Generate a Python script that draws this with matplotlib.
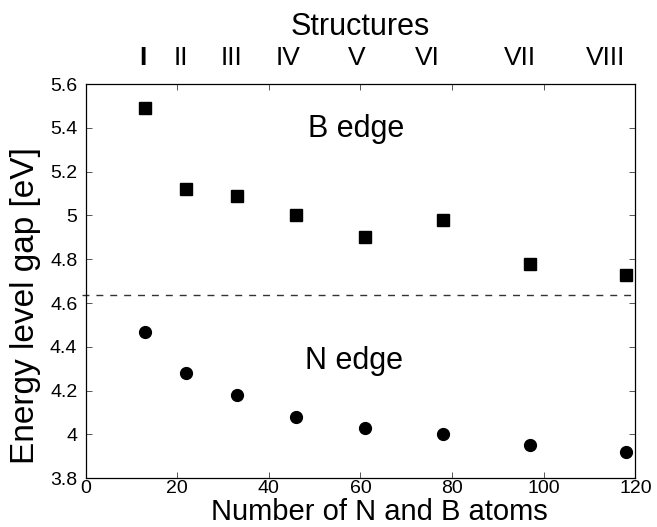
import matplotlib
matplotlib.use('Agg')
import matplotlib.pyplot as plt

plt.rcParams['font.family'] = ['Liberation Sans', 'DejaVu Sans']

# 数据
atoms = [13, 22, 33, 46, 61, 78, 97, 118]
b_edge = [5.49, 5.12, 5.09, 5.00, 4.90, 4.98, 4.78, 4.73]
n_edge = [4.47, 4.28, 4.18, 4.08, 4.03, 4.00, 3.95, 3.92]
gap_line = 4.635
structures = ['I', 'II', 'III', 'IV', 'V', 'VI', 'VII', 'VIII']
structure_pos = [12.4, 20.8, 31.9, 44.1, 59.1, 74.5, 94.8, 113.4]
xticks = [0, 20, 40, 60, 80, 100, 120]
yticks = [3.8, 4.0, 4.2, 4.4, 4.6, 4.8, 5.0, 5.2, 5.4, 5.6]

fig = plt.figure(figsize=(6.57, 5.27), dpi=100)
ax = fig.add_axes([0.1304, 0.0924, 0.8366, 0.7482])

ax.plot(atoms, b_edge, 's', color='black', ms=8, mec='black')
ax.plot(atoms, n_edge, 'o', color='black', ms=8.5, mec='black')
ax.axhline(gap_line, xmin=-0.006, xmax=1, color='#333333', lw=1,
           dashes=(5, 5), clip_on=False)

ax.set_xlim(0, 120)
ax.set_ylim(3.8, 5.6)
ax.set_xticks(xticks)
ax.set_yticks(yticks)
ax.set_yticklabels(['%g' % v for v in yticks])
ax.tick_params(direction='in', length=4, width=0.7, top=True, right=True,
               labelsize=14, color='#555555')
ax.tick_params(axis='x', pad=1)
ax.tick_params(axis='y', pad=6)
for s in ax.spines.values():
    s.set_linewidth(0.9)

ax.set_xlabel('Number of N and B atoms', fontsize=21, va='baseline')
ax.xaxis.set_label_coords(0.535, -0.107)
ax.set_ylabel('Energy level gap [eV]', fontsize=24, va='center', ha='center')
ax.yaxis.set_label_coords(-0.110, 0.437)

ax.text(59.1, 5.395, 'B edge', fontsize=22, ha='center', va='center')
ax.text(58.5, 4.334, 'N edge', fontsize=22, ha='center', va='center')

# 顶部结构标注
for name, xp in zip(structures, structure_pos):
    ax.text(xp, 1.065, name, transform=ax.get_xaxis_transform(),
            fontsize=19, ha='center', va='center',
            fontweight='bold' if name == 'I' else 'normal')
ax.text(0.5, 1.145, 'Structures', transform=ax.transAxes,
        fontsize=22, ha='center', va='center')

fig.savefig('out.png', dpi=100)
